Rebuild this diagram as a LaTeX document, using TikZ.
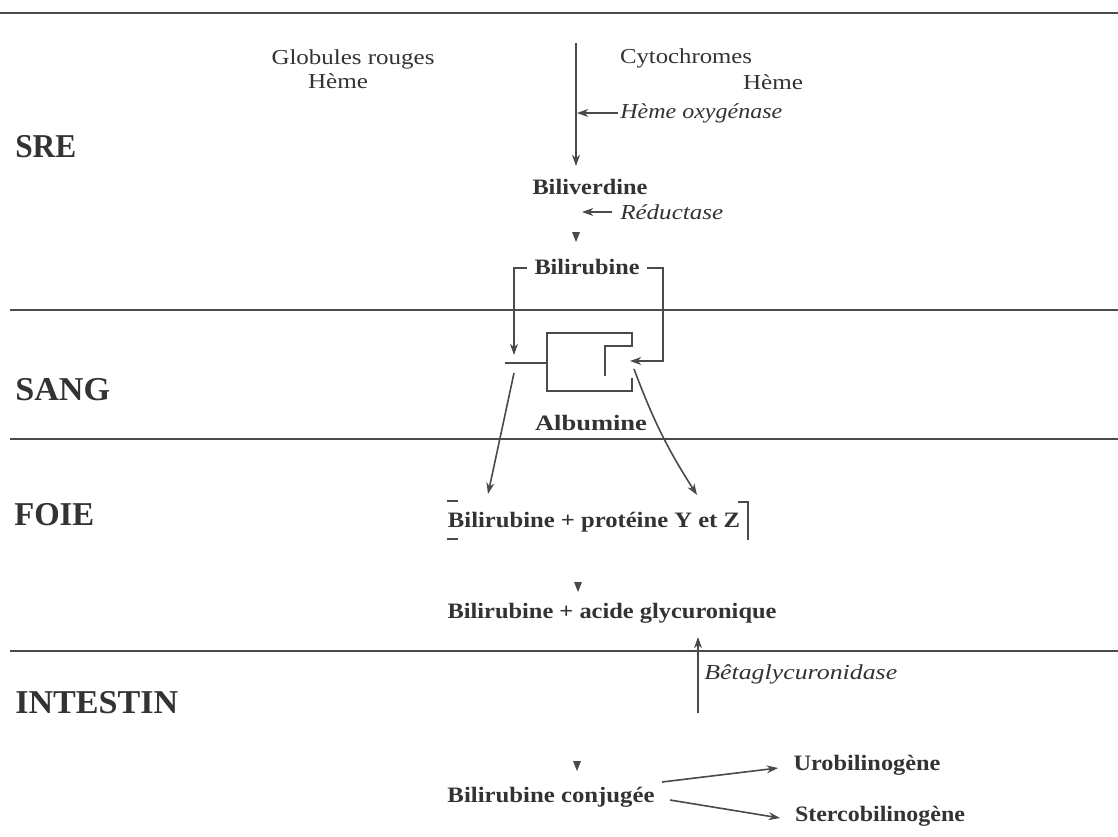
\documentclass[tikz,border=0pt]{standalone}
\usepackage{fontspec}
\setmainfont{Liberation Serif}
\usetikzlibrary{arrows.meta}
\definecolor{ink}{HTML}{4A4A4A}
\definecolor{txt}{HTML}{333333}
\newlength\pxu \setlength\pxu{0.75pt}
\newcommand\fitw[2]{\resizebox{#1\pxu}{\height}{#2}}
\tikzset{
  lbl/.style={font=\fontsize{25}{29}\selectfont\bfseries, text=txt, inner sep=0pt, anchor=west},
  reg/.style={font=\fontsize{16}{18}\selectfont, text=txt, inner sep=0pt},
  bld/.style={font=\fontsize{16.5}{19}\selectfont\bfseries, text=txt, inner sep=0pt},
  itl/.style={font=\fontsize{16}{18}\selectfont\itshape, text=txt, inner sep=0pt},
  zone/.style={draw=ink, line width=1.6pt},
  ln/.style={draw=ink, line width=1.2pt},
  arr/.style={draw=ink, line width=1.2pt, -{Stealth[length=8.5pt,width=6pt]}},
  tri/.style={fill=ink},
}
\begin{document}
\begin{tikzpicture}[x=0.75pt,y=-0.75pt]
\useasboundingbox (0,0) rectangle (1118,836);
\fill[white] (0,0) rectangle (1118,836);

% zone separators
\coordinate (z1a) at (0,13);    \coordinate (z1b) at (1118,13);
\coordinate (z2a) at (10,310);  \coordinate (z2b) at (1118,310);
\coordinate (z3a) at (10,439);  \coordinate (z3b) at (1118,439);
\coordinate (z4a) at (10,651);  \coordinate (z4b) at (1118,651);
\draw[zone] (z1a) -- (z1b);
\draw[zone] (z2a) -- (z2b);
\draw[zone] (z3a) -- (z3b);
\draw[zone] (z4a) -- (z4b);

% zone labels
\node[lbl] (sre)  at (15,147) {\fitw{61}{SRE}};
\node[lbl] (sang) at (15,390) {\fitw{95}{SANG}};
\node[lbl] (foie) at (14,515) {\fitw{80}{FOIE}};
\node[lbl] (intestin) at (15,703) {\fitw{163}{INTESTIN}};

% SRE
\node[reg] (glob)  at (353,59) {\fitw{163}{Globules rouges}};
\node[reg] (heme1) at (338,81) {\fitw{60}{Hème}};
\node[reg] (cyto)  at (686,58) {\fitw{132}{Cytochromes}};
\node[reg] (heme2) at (773,82) {\fitw{60}{Hème}};

\coordinate (vtop) at (576,43);
\coordinate (vbot) at (576,166);
\draw[arr] (vtop) -- (vbot);

\node[itl, anchor=west] (ho) at (620,113) {\fitw{162}{Hème oxygénase}};
\coordinate (hotip) at (577,113);
\draw[arr] ([xshift=-1.5pt]ho.west) -- (hotip);

\node[bld] (bv) at (590,187) {\fitw{115}{Biliverdine}};

\node[itl, anchor=west] (red) at (620,212) {\fitw{103}{Réductase}};
\coordinate (redtip) at (582,212);
\draw[arr] ([xshift=-6pt]red.west) -- (redtip);

\fill[tri] (572,232) -- (580,232) -- (576,242) -- cycle;

\node[bld] (br) at (587,267) {\fitw{105}{Bilirubine}};

% brackets from Bilirubine to albumine
\coordinate (bl0) at (527,268);
\coordinate (bl1) at (514,268);
\coordinate (bl2) at (514,355);
\draw[arr] (bl0) -- (bl1) -- (bl2);
\coordinate (br0) at (647,268);
\coordinate (br1) at (663,268);
\coordinate (br2) at (663,361);
\coordinate (br3) at (630,361);
\draw[arr] (br0) -- (br1) -- (br2) -- (br3);

% albumine shape
\coordinate (a1) at (605,376);
\coordinate (a2) at (605,346);
\coordinate (a3) at (632,346);
\coordinate (a4) at (632,333);
\coordinate (a5) at (547,333);
\coordinate (a6) at (547,391);
\coordinate (a7) at (632,391);
\coordinate (a8) at (632,378);
\draw[ln] (a1) -- (a2) -- (a3) -- (a4) -- (a5) -- (a6) -- (a7) -- (a8);
\coordinate (s1) at (505,363);
\draw[ln] (s1) -- (a5 |- s1);

\node[bld] (alb) at (591,423) {\fitw{112}{Albumine}};

% to liver
\coordinate (ls) at (514,373);
\coordinate (lt) at (488,494);
\draw[arr] (ls) -- (lt);
\coordinate (rs) at (634,369);
\coordinate (rt) at (697,495);
\draw[arr] (rs) to[bend right=6] (rt);

% FOIE
\node[bld] (byz) at (594,522) {\fitw{292}{Bilirubine + protéine Y et Z}};
\coordinate (k1) at (447,501); \coordinate (k2) at (458,501);
\coordinate (k3) at (447,539); \coordinate (k4) at (458,539);
\draw[ln] (k1) -- (k2);
\draw[ln] (k3) -- (k4);
\coordinate (k5) at (738,502); \coordinate (k6) at (748,502); \coordinate (k7) at (748,540);
\draw[ln] (k5) -- (k6) -- (k7);

\fill[tri] (574,582) -- (582,582) -- (578,592) -- cycle;

\node[bld] (bag) at (612,613) {\fitw{329}{Bilirubine + acide glycuronique}};

% INTESTIN
\coordinate (ub) at (698,713);
\coordinate (ut) at (698,637);
\draw[arr] (ub) -- (ut);
\node[itl, anchor=west] (beta) at (704,674) {\fitw{193}{Bêtaglycuronidase}};

\fill[tri] (573,761) -- (581,761) -- (577,771) -- cycle;

\node[bld] (bc)   at (551,797) {\fitw{207}{Bilirubine conjugée}};
\node[bld] (uro)  at (867,765) {\fitw{147}{Urobilinogène}};
\node[bld] (ster) at (880,816) {\fitw{170}{Stercobilinogène}};

\coordinate (u0) at (662,782);
\coordinate (u1) at (778,768);
\draw[arr] (u0) -- (u1);
\coordinate (s0) at (670,800);
\coordinate (s2) at (780,818);
\draw[arr] (s0) -- (s2);
\end{tikzpicture}
\end{document}
